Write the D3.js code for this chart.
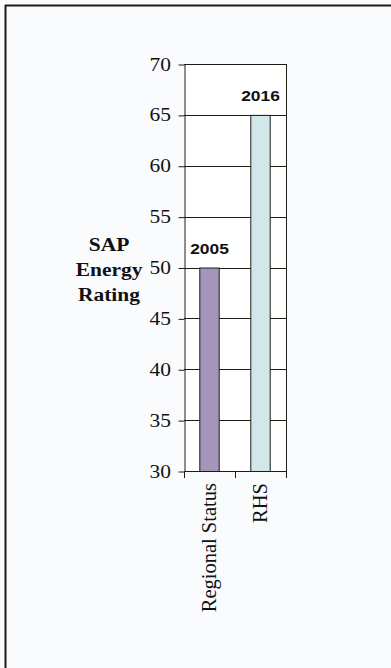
<!DOCTYPE html>
<html>
<head>
<meta charset="utf-8">
<script src="https://cdn.jsdelivr.net/npm/d3@7"></script>
<style>
  html, body { margin: 0; padding: 0; background: #fafbfd; }
  svg { display: block; }
</style>
</head>
<body>
<svg id="chart" width="391" height="668"></svg>
<script>
// Chart data
const categories = ["Regional Status", "RHS"];
const ratings = [50, 65];
const yearLabels = ["2005", "2016"];
const barColors = ["#a695bb", "#d2e7e9"];
const yTicks = [30, 35, 40, 45, 50, 55, 60, 65, 70];
const yTitle = ["SAP", "Energy", "Rating"];

const svg = d3.select("#chart");
const ink = "#1c1c14";

// Outer frame (top and left edges)
svg.append("line").attr("x1", 5).attr("x2", 391).attr("y1", 5.5).attr("y2", 5.5)
  .attr("stroke", ink).attr("stroke-width", 2);
svg.append("line").attr("x1", 5.5).attr("x2", 5.5).attr("y1", 5).attr("y2", 668)
  .attr("stroke", ink).attr("stroke-width", 2);

const plot = { left: 184, right: 286, top: 64, bottom: 471 };

const y = d3.scaleLinear().domain([30, 70]).range([plot.bottom, plot.top]);
const x = d3.scaleBand().domain(categories)
  .range([plot.left, plot.right]).paddingInner(0.6).paddingOuter(0.3);
const step = x.step();

// Plot area background
svg.append("rect")
  .attr("x", plot.left).attr("y", plot.top)
  .attr("width", plot.right - plot.left).attr("height", plot.bottom - plot.top)
  .attr("fill", "#ffffff");

// Horizontal gridlines
svg.append("g").selectAll("line").data(yTicks).join("line")
  .attr("x1", plot.left).attr("x2", plot.right)
  .attr("y1", d => Math.round(y(d)) + 0.5).attr("y2", d => Math.round(y(d)) + 0.5)
  .attr("stroke", ink).attr("stroke-width", 1);

// Bars
svg.append("g").selectAll("rect").data(categories).join("rect")
  .attr("x", d => x(d) + 0.5)
  .attr("y", (d, i) => y(ratings[i]) + 0.5)
  .attr("width", x.bandwidth() - 1)
  .attr("height", (d, i) => y(30) - y(ratings[i]))
  .attr("fill", (d, i) => barColors[i])
  .attr("stroke", ink).attr("stroke-width", 1);

// Plot border (right edge)
svg.append("line").attr("x1", plot.right + 0.5).attr("x2", plot.right + 0.5)
  .attr("y1", plot.top).attr("y2", plot.bottom + 7)
  .attr("stroke", ink).attr("stroke-width", 1);

// Y axis
const yAxis = d3.axisLeft(y).tickValues(yTicks).tickSize(6).tickSizeOuter(0).tickFormat("");
const yg = svg.append("g").attr("transform", `translate(${plot.left + 0.5},0.5)`).call(yAxis);
yg.selectAll("path, line").attr("stroke", ink);

// Y tick labels (slightly wide serif numerals)
svg.append("g").selectAll("text").data(yTicks).join("text")
  .attr("transform", d => `translate(171,${y(d) + 6.5}) scale(1.16,1)`)
  .attr("text-anchor", "end")
  .attr("font-family", "'Liberation Serif', 'Times New Roman', serif")
  .attr("font-size", 18.5)
  .attr("fill", "#111")
  .text(d => d);

// X axis: baseline plus ticks at category boundaries
svg.append("line").attr("x1", plot.left).attr("x2", plot.right + 1)
  .attr("y1", plot.bottom + 0.5).attr("y2", plot.bottom + 0.5)
  .attr("stroke", ink).attr("stroke-width", 1);
const bounds = d3.range(categories.length + 1).map(i => plot.left + i * step);
svg.append("g").selectAll("line").data(bounds).join("line")
  .attr("x1", d => Math.round(d) + 0.5).attr("x2", d => Math.round(d) + 0.5)
  .attr("y1", plot.bottom).attr("y2", plot.bottom + 7)
  .attr("stroke", ink).attr("stroke-width", 1);

// Category labels, rotated
svg.append("g").selectAll("text").data(categories).join("text")
  .attr("transform", d => `translate(${x(d) + x.bandwidth() / 2 + 6.5},483) rotate(-90)`)
  .attr("text-anchor", "end")
  .attr("font-family", "'Liberation Serif', 'Times New Roman', serif")
  .attr("font-size", 20.5)
  .attr("fill", "#111")
  .text(d => d);

// Year labels above bars
svg.append("g").selectAll("text").data(categories).join("text")
  .attr("transform", (d, i) => `translate(${x(d) + x.bandwidth() / 2},${y(ratings[i]) - 13.5}) scale(1.16,1)`)
  .attr("text-anchor", "middle")
  .attr("font-family", "'Liberation Sans', Arial, sans-serif")
  .attr("font-weight", "bold")
  .attr("font-size", 15)
  .attr("fill", "#111")
  .text((d, i) => yearLabels[i]);

// Y axis title
svg.append("g").selectAll("text").data(yTitle).join("text")
  .attr("transform", (d, i) => `translate(109,${250.5 + i * 25}) scale(1.16,1)`)
  .attr("text-anchor", "middle")
  .attr("font-family", "'Liberation Serif', 'Times New Roman', serif")
  .attr("font-weight", "bold")
  .attr("font-size", 18.5)
  .attr("fill", "#111")
  .text(d => d);
</script>
</body>
</html>
